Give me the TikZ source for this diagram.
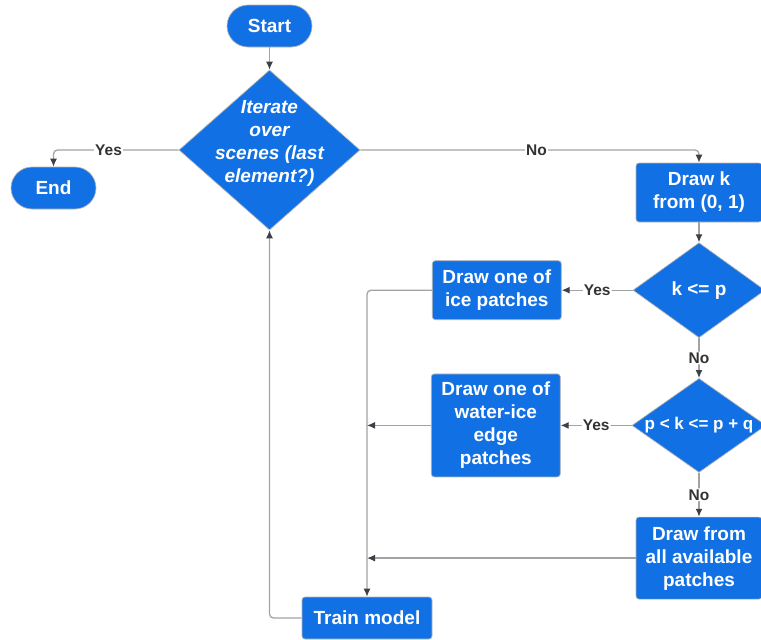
\documentclass[tikz,border=0pt]{standalone}
\usepackage{fontspec}
\setmainfont{Liberation Sans}
\usetikzlibrary{shapes.geometric,positioning,arrows.meta}
\definecolor{boxblue}{HTML}{1170E4}
\definecolor{boxrim}{HTML}{B4B4B4}
\definecolor{wire}{HTML}{A3A3A3}
\definecolor{tipgray}{HTML}{3C4048}
\definecolor{answergray}{HTML}{333333}

\begin{document}
\begin{tikzpicture}[x=1pt, y=-1pt,
    base/.style={fill=boxblue, draw=boxrim, line width=0.7pt, text=white, align=center,
        font=\fontsize{19}{23}\selectfont\bfseries, inner sep=2pt},
    terminal/.style={base, rectangle, rounded corners=21pt, minimum width=85pt, minimum height=42pt},
    process/.style={base, rectangle, rounded corners=3pt},
    decision/.style={base, diamond, inner sep=0pt},
    asktext/.style={text=white, align=center, font=\fontsize{19}{23}\selectfont\bfseries},
    asks/.style={label={[asktext]center:{#1}}},
    flow/.style={draw=wire, line width=1.3pt, rounded corners=4pt,
        -{Latex[color=tipgray, length=8pt, width=7pt]}},
    answer/.style={fill=white, text=answergray, font=\fontsize{15.5}{18}\selectfont\bfseries, inner sep=1pt}]
    \useasboundingbox (0,0) rectangle (761,640);
    % main loop
    \node[terminal](start) at (269.5,26) {Start};
    \node[decision, minimum width=181pt, minimum height=160pt,
        label={[asktext, yshift=7pt, font=\fontsize{19}{23}\selectfont\bfseries\itshape]center:{Iterate\\over\\scenes (last\\element?)}}](iter) at (269.5,150) {};
    \node[terminal](stop) at (53.5,188) {End};
    % choosing the patches
    \node[process, minimum width=126pt, minimum height=59pt](drawk) at (699,192.5) {Draw k\\from (0, 1)};
    \node[decision, minimum width=132pt, minimum height=95pt, asks={k <= p}](kp)[below=20pt of drawk] {};
    \node[decision, minimum width=134pt, minimum height=94pt,
        label={[asktext, font=\fontsize{17}{20}\selectfont\bfseries]center:{p < k <= p + q}}](pk)[below=40pt of kp] {};
    \node[process, minimum width=126pt, minimum height=82pt](drawall)[below=44pt of pk] {Draw from\\all available\\patches};
    \node[process, minimum width=129pt, minimum height=59pt](ice)[left=71pt of kp] {Draw one of\\ice patches};
    \node[process, minimum width=129pt, minimum height=103pt](edge)[left=71pt of pk] {Draw one of\\water-ice\\edge\\patches};
    \node[process, minimum width=130pt, minimum height=42pt](train) at (367,618) {Train model};
    \coordinate (join1) at (edge.west -| train.north);
    \coordinate (join2) at (drawall.west -| train.north);
    % connectors
    \draw[flow] (start) -- (iter);
    \draw[flow] (iter.west) -| node[answer, pos=0.28]{Yes} (stop.north);
    \draw[flow] (iter.east) -| node[answer, pos=0.26]{No} (drawk.north);
    \draw[flow] (drawk) -- (kp);
    \draw[flow] (kp) -- node[answer]{Yes} (ice);
    \draw[flow] (kp) -- node[answer]{No} (pk);
    \draw[flow] (pk) -- node[answer]{Yes} (edge);
    \draw[flow] (pk) -- node[answer]{No} (drawall);
    \draw[flow] (ice.west) -| (train.north);
    \draw[flow] (edge.west) -- (join1);
    \draw[flow] (drawall.west) -- (join2);
    \draw[flow] (train.west) -| (iter.south);
\end{tikzpicture}
\end{document}
